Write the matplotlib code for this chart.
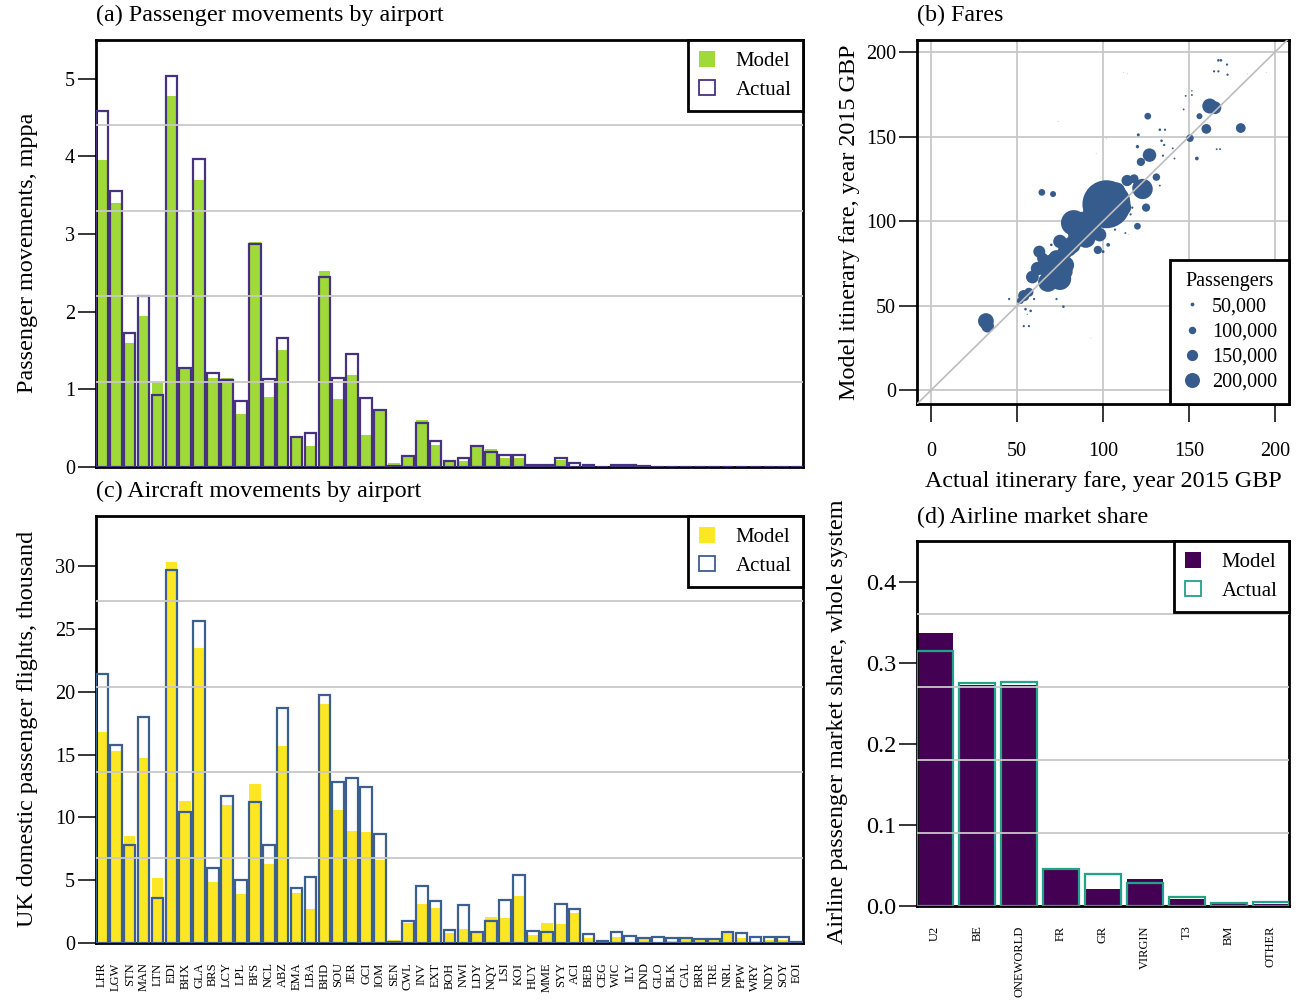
import numpy as np
import matplotlib
matplotlib.use('Agg')
import matplotlib.pyplot as plt
from matplotlib.lines import Line2D
from matplotlib.patches import Patch

plt.rcParams['font.family'] = ['Liberation Serif', 'DejaVu Serif']
plt.rcParams['font.size'] = 14.5
LABEL_FS = 17.4

# аэропорты
airports = ['LHR', 'LGW', 'STN', 'MAN', 'LTN', 'EDI', 'BHX', 'GLA', 'BRS', 'LCY',
            'LPL', 'BFS', 'NCL', 'ABZ', 'EMA', 'LBA', 'BHD', 'SOU', 'JER', 'GCI',
            'IOM', 'SEN', 'CWL', 'INV', 'EXT', 'BOH', 'NWI', 'LDY', 'NQY', 'LSI',
            'KOI', 'HUY', 'MME', 'SYY', 'ACI', 'BEB', 'CEG', 'WIC', 'ILY', 'DND',
            'GLO', 'BLK', 'CAL', 'BRR', 'TRE', 'NRL', 'PPW', 'WRY', 'NDY', 'SOY', 'EOI']

# (a) пассажиропоток, mppa
pax_model = [3.96, 3.40, 1.60, 1.94, 1.10, 4.78, 1.26, 3.70, 1.15, 1.14,
             0.68, 2.90, 0.90, 1.51, 0.38, 0.27, 2.53, 0.88, 1.18, 0.41,
             0.73, 0.05, 0.13, 0.61, 0.28, 0.07, 0.08, 0.26, 0.23, 0.12,
             0.12, 0.02, 0.03, 0.09, 0.01, 0.01, 0.0, 0.01, 0.01, 0.005,
             0.003, 0.002, 0.002, 0.002, 0.002, 0.002, 0.002, 0.001, 0.001, 0.001, 0.001]
pax_actual = [4.59, 3.55, 1.72, 2.20, 0.93, 5.03, 1.27, 3.97, 1.21, 1.12,
              0.85, 2.87, 1.13, 1.66, 0.39, 0.44, 2.45, 1.14, 1.45, 0.89,
              0.73, 0.01, 0.14, 0.57, 0.34, 0.08, 0.11, 0.27, 0.19, 0.15,
              0.15, 0.03, 0.02, 0.12, 0.05, 0.02, 0.003, 0.02, 0.02, 0.01,
              0.005, 0.004, 0.004, 0.003, 0.003, 0.003, 0.003, 0.002, 0.002, 0.002, 0.002]

# (c) рейсы, тыс.
flt_model = [16.8, 15.25, 8.5, 14.7, 5.15, 30.3, 11.3, 23.45, 4.83, 10.95,
             3.87, 12.7, 6.26, 15.7, 3.95, 2.68, 19.0, 10.6, 8.9, 8.8,
             6.6, 0.2, 1.56, 3.08, 2.76, 0.8, 1.1, 0.8, 2.04, 1.96,
             3.71, 0.6, 1.56, 1.49, 2.39, 0.42, 0.0, 0.48, 0.1, 0.37,
             0.05, 0.13, 0.37, 0.32, 0.32, 0.8, 0.42, 0.16, 0.26, 0.26, 0.1]
flt_actual = [21.4, 15.8, 7.8, 18.0, 3.55, 29.7, 10.45, 25.65, 5.97, 11.7,
              5.0, 11.2, 7.8, 18.7, 4.35, 5.28, 19.76, 12.8, 13.1, 12.4,
              8.7, 0.1, 1.72, 4.56, 3.34, 1.0, 3.05, 0.87, 1.78, 3.42,
              5.38, 0.95, 0.9, 3.1, 2.73, 0.74, 0.16, 0.9, 0.53, 0.42,
              0.5, 0.42, 0.42, 0.34, 0.34, 0.85, 0.82, 0.5, 0.5, 0.5, 0.1]

# (d) доли рынка
airlines = ['U2', 'BE', 'ONEWORLD', 'FR', 'GR', 'VIRGIN', 'T3', 'BM', 'OTHER']
share_model = [0.336, 0.273, 0.272, 0.045, 0.0205, 0.0337, 0.0086, 0.003, 0.003]
share_actual = [0.315, 0.275, 0.276, 0.046, 0.039, 0.028, 0.0115, 0.004, 0.0053]

# (b) тарифы: фактический, модельный, пассажиры
fare_actual = [32, 33, 54, 57, 52, 59, 63, 65, 67, 68, 72, 75, 73, 78, 78, 75, 82, 83, 86, 90,
               88, 92, 95, 98, 97, 102, 96, 106, 110, 112, 108, 114, 118, 121, 123, 125, 120,
               122, 127, 131, 126, 150.5, 154.5, 156, 160, 162, 165, 180, 64.5, 71,
               45.5, 55, 58, 73, 77, 54, 57, 60, 70, 84, 93, 100, 103, 107, 113, 120.5, 120,
               133, 136, 134, 135.5, 140.5, 141.5, 134.8, 133, 146.8, 148, 151.6, 151.6, 166,
               168, 167, 168.5, 172, 164.5, 167, 172.3, 117, 116, 56,
               112, 114, 74, 102, 96, 115, 93, 195, 184, 121,
               62, 70, 80, 85, 90, 94, 78, 66]
fare_model = [41, 38, 56, 58, 53, 67, 82, 78, 74, 64, 70, 66, 78, 74, 82, 88, 86, 99, 93, 90,
              100, 96, 103, 92, 83, 110, 104, 106, 113, 108, 118, 124, 125, 120, 119, 108, 97,
              135, 139, 126, 162, 149, 137, 162, 154.5, 168, 167, 155, 117, 116,
              54, 48, 47, 54, 49.5, 38, 38, 54, 86, 96, 87, 82, 86, 95, 93, 151, 144,
              154, 154, 147.5, 145, 143, 137, 138.7, 121, 166, 174, 174.5, 177, 142.5,
              142.5, 195, 195, 192.5, 188.5, 188.5, 186.5, 108, 104, 45,
              188, 187, 159, 149, 140, 92, 31, 188, 187, 124,
              72, 76, 84, 90, 94, 98, 70, 72]
fare_pax = [210000, 170000, 150000, 120000, 90000, 170000, 160000, 150000, 200000, 260000,
            240000, 300000, 220000, 240000, 200000, 180000, 230000, 340000, 290000, 260000,
            250000, 320000, 320000, 180000, 110000, 640000, 350000, 300000, 250000, 200000,
            220000, 150000, 120000, 180000, 270000, 110000, 90000, 110000, 180000, 100000,
            90000, 100000, 50000, 80000, 130000, 200000, 170000, 130000, 90000, 80000,
            30000, 35000, 35000, 30000, 35000, 30000, 30000, 30000, 35000, 30000, 30000,
            40000, 50000, 30000, 25000, 40000, 45000, 35000, 30000, 35000, 30000, 25000,
            25000, 30000, 25000, 25000, 25000, 25000, 20000, 25000, 25000, 35000, 35000,
            30000, 30000, 30000, 30000, 30000, 30000, 15000,
            8000, 8000, 8000, 8000, 8000, 8000, 8000, 8000, 8000, 8000,
            180000, 200000, 220000, 240000, 240000, 220000, 200000, 190000]
legend_pax = [50000, 100000, 150000, 200000]

GREEN = '#a0da39'
PURPLE = '#46327e'
YELLOW = '#fde725'
BLUE = '#3b5f8f'
POINT = '#365c8d'
DARK = '#440154'
TEAL = '#22a387'
GRID = '#c8c8c8'

W, H = 1304, 1000
fig = plt.figure(figsize=(W / 100, H / 100), dpi=100, facecolor='white')


def px_axes(l, t, r, b):
    return fig.add_axes([l / W, 1 - b / H, (r - l) / W, (b - t) / H])


def frame(ax):
    for s in ax.spines.values():
        s.set_linewidth(2)
    ax.tick_params(axis='y', length=13, width=1.1, pad=2)


def bars(ax, model, actual, fill, edge, width, top):
    x = np.arange(len(model))
    ax.bar(x, model, width, color=fill, linewidth=0, zorder=2)
    ax.bar(x, actual, width, facecolor='none', edgecolor=edge, linewidth=1.6, zorder=3)
    ax.set_ylim(0, top)
    for k in range(1, 5):
        ax.axhline(top * k / 5, color=GRID, lw=1.3, zorder=4)
    leg = ax.legend(handles=[Patch(facecolor=fill, edgecolor='none'),
                             Patch(facecolor='white', edgecolor=edge, linewidth=1.3)],
                    labels=['Model', 'Actual'], loc='upper right', borderaxespad=0,
                    fancybox=False, edgecolor='black', framealpha=1, fontsize=15,
                    handlelength=0.75, handleheight=0.75, handletextpad=1.0,
                    borderpad=0.55, labelspacing=0.42)
    leg.get_frame().set_linewidth(2)
    leg.set_zorder(6)
    frame(ax)


# (a)
axA = px_axes(96, 40, 803, 467)
bars(axA, pax_model, pax_actual, GREEN, PURPLE, 0.84, 5.5)
axA.set_xlim(-0.42, len(airports) - 0.58)
axA.set_yticks(range(0, 6))
axA.tick_params(axis='x', bottom=False, labelbottom=False)

# (c)
axC = px_axes(96, 516, 803, 943)
bars(axC, flt_model, flt_actual, YELLOW, BLUE, 0.84, 34)
axC.set_xlim(-0.42, len(airports) - 0.58)
axC.set_yticks(range(0, 31, 5))
axC.set_xticks(np.arange(len(airports)))
axC.set_xticklabels(airports, rotation=90, fontsize=9)
axC.tick_params(axis='x', length=0, pad=14)

# (d)
axD = px_axes(917, 541, 1289, 906)
bars(axD, share_model, share_actual, DARK, TEAL, 0.87, 0.45)
axD.set_xlim(-0.435, len(airlines) - 0.565)
axD.set_yticks(np.arange(0, 0.41, 0.1))
axD.set_yticklabels(['%.1f' % v for v in np.arange(0, 0.41, 0.1)], fontsize=17.5)
axD.set_xticks(np.arange(len(airlines)))
axD.set_xticklabels(airlines, rotation=90, fontsize=9)
axD.tick_params(axis='x', length=0, pad=14)

# (b)
axB = px_axes(917, 40, 1289, 404)
size = lambda p: (np.asarray(p) / 200000 * 15 * 0.72)
axB.grid(color=GRID, lw=1.3, zorder=1)
axB.set_axisbelow(True)
axB.scatter(fare_actual, fare_model, s=size(fare_pax) ** 2, color=POINT,
            linewidths=0, zorder=3)
axB.plot([-8, 208], [-8, 208], color='#bdbdbd', lw=1.2, zorder=4)
axB.set_xlim(-8, 208)
axB.set_ylim(-8, 207)
axB.set_xticks(range(0, 201, 50))
axB.set_yticks(range(0, 201, 50))
frame(axB)
axB.tick_params(axis='x', length=13, width=1.1, pad=14)
handles = [Line2D([], [], ls='none', marker='o', markersize=size(p),
                  markerfacecolor=POINT, markeredgecolor='none') for p in legend_pax]
legB = axB.legend(handles, ['{:,}'.format(p) for p in legend_pax], title='Passengers',
                  loc='lower right', borderaxespad=0, fancybox=False, edgecolor='black',
                  framealpha=1, handlelength=1.0, handletextpad=0.5, borderpad=0.6,
                  labelspacing=0.3, title_fontsize=14.5)
legB.get_frame().set_linewidth(2)
legB.set_zorder(6)

# подписи
fig.text(96 / W, 1 - 15 / H, '(a) Passenger movements by airport', va='center', ha='left',
         fontsize=LABEL_FS)
fig.text(917 / W, 1 - 15 / H, '(b) Fares', va='center', ha='left', fontsize=LABEL_FS)
fig.text(96 / W, 1 - 491 / H, '(c) Aircraft movements by airport', va='center', ha='left',
         fontsize=LABEL_FS)
fig.text(917 / W, 1 - 517 / H, '(d) Airline market share', va='center', ha='left',
         fontsize=LABEL_FS)
fig.text(28 / W, 1 - 253 / H, 'Passenger movements, mppa', rotation=90, va='center',
         ha='center', fontsize=LABEL_FS)
fig.text(28 / W, 1 - 729 / H, 'UK domestic passenger flights, thousand', rotation=90,
         va='center', ha='center', fontsize=LABEL_FS)
fig.text(850 / W, 1 - 222 / H, 'Model itinerary fare, year 2015 GBP', rotation=90,
         va='center', ha='center', fontsize=LABEL_FS)
fig.text(838 / W, 1 - 722 / H, 'Airline passenger market share, whole system', rotation=90,
         va='center', ha='center', fontsize=LABEL_FS)
fig.text(1103 / W, 1 - 481 / H, 'Actual itinerary fare, year 2015 GBP', va='center',
         ha='center', fontsize=LABEL_FS)

fig.savefig('out.png', dpi=100, facecolor='white')
